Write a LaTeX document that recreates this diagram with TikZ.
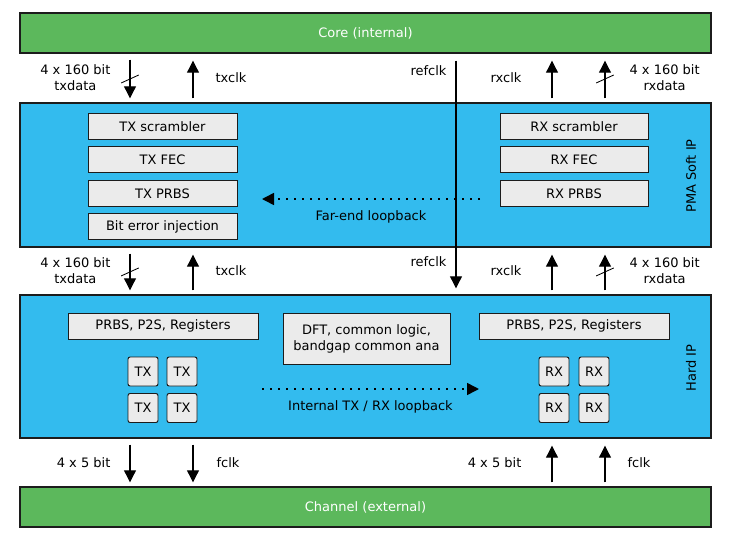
\documentclass[tikz,border=0pt]{standalone}
\usepackage{fontspec}
\setmainfont{DejaVu Sans}
\usepackage{tikz}
\usetikzlibrary{arrows.meta, positioning}
\definecolor{extgreen}{HTML}{5CB85C}
\definecolor{ipblue}{HTML}{33BBEE}
\definecolor{blkgrey}{HTML}{EBEBEB}
\definecolor{edge}{HTML}{1C1C1C}

\begin{document}
\begin{tikzpicture}[
    x=0.25mm, y=-0.25mm,
    font=\fontsize{9.25}{11.4}\selectfont,
    ext/.style={draw=edge, fill=extgreen, line width=1pt, minimum width=172.75mm,
        minimum height=10mm, text=white},
    ipbox/.style={draw=edge, fill=ipblue, line width=1pt, minimum width=172.75mm},
    blk/.style={draw=edge, fill=blkgrey, line width=0.7pt, minimum width=37.25mm,
        minimum height=6.5mm, inner sep=0pt, align=center},
    lane/.style={draw=edge, fill=blkgrey, line width=0.7pt, rounded corners=1.5pt,
        minimum width=7.5mm, minimum height=7.25mm, inner sep=0pt},
    sig/.style={-{Triangle[length=3mm, width=3mm]}, line width=0.8pt},
    down/.style={sig, shorten <=1.5mm, shorten >=1mm},
    up/.style={sig, shorten <=1mm, shorten >=1.75mm},
    busmark/.style={line width=0.6pt},
    loopflow/.style={-{Triangle[length=3mm, width=3mm]}, line width=1.1pt,
        dash pattern=on 1.1pt off 4.6pt},
    lab/.style={align=center, inner sep=0pt},
    side/.style={rotate=90, inner sep=0pt}
]
\useasboundingbox (0,0) rectangle (734,533);

% outer blocks
\node[ext] (core) at (365.5,33) {Core (internal)};
\node[ipbox, minimum height=36mm] (pma) at (365.5,175) {};
\node[ipbox, minimum height=35.75mm] (hard) at (365.5,366.5) {};
\node[ext] (chan) at (365.5,507) {Channel (external)};

\node[side] (pmalab) at (691,176) {PMA Soft IP};
\node[side] (hardlab) at (691,368) {Hard IP};

% PMA soft IP blocks
\node[blk] (txscr) at (162.5,126.5) {TX scrambler};
\node[blk, below=1.625mm of txscr] (txfec) {TX FEC};
\node[blk, below=1.625mm of txfec] (txprbs) {TX PRBS};
\node[blk, below=1.625mm of txprbs] (biterr) {Bit error injection};

\node[blk, minimum width=37mm] (rxscr) at (574,126.5) {RX scrambler};
\node[blk, minimum width=37mm, below=1.625mm of rxscr] (rxfec) {RX FEC};
\node[blk, minimum width=37mm, below=1.625mm of rxfec] (rxprbs) {RX PRBS};

% Hard IP blocks
\node[blk, minimum width=47.5mm] (txreg) at (163,326) {PRBS, P2S, Registers};
\node[blk, minimum width=41.75mm, minimum height=12.75mm] (dft) at (366.5,338.5)
    {DFT, common logic,\\bandgap common ana};
\node[blk, minimum width=47.5mm] (rxreg) at (574,326) {PRBS, P2S, Registers};

\node[lane] (tx11) at (143,371.5) {TX};
\node[lane] (tx12) at (182,371.5) {TX};
\node[lane] (tx21) at (143,408) {TX};
\node[lane] (tx22) at (182,408) {TX};
\node[lane] (rx11) at (554,371.5) {RX};
\node[lane] (rx12) at (594,371.5) {RX};
\node[lane] (rx21) at (554,408) {RX};
\node[lane] (rx22) at (594,408) {RX};

% signal columns
\coordinate (txd) at (130,0);
\coordinate (txc) at (193,0);
\coordinate (ref) at (456,0);
\coordinate (rxc) at (552,0);
\coordinate (rxd) at (605,0);

% core <-> PMA soft IP
\draw[down] (txd |- core.south) -- coordinate[pos=0.52] (bus1)
    node[lab, midway, left=4.75mm] {4 x 160 bit\\txdata} (txd |- pma.north);
\draw[up] (txc |- pma.north) -- node[lab, midway, right=5.5mm] {txclk} (txc |- core.south);
\draw[up] (rxc |- pma.north) -- node[lab, midway, left=7.5mm] {rxclk} (rxc |- core.south);
\draw[up] (rxd |- pma.north) -- coordinate[pos=0.48] (bus2)
    node[lab, midway, right=6mm] {4 x 160 bit\\rxdata} (rxd |- core.south);

% refclk runs through to the hard IP
\draw[sig, shorten <=1.75mm, shorten >=1.5mm] (ref |- core.south)
    -- node[lab, pos=0.07, left=2.25mm] {refclk}
       node[lab, pos=0.864, left=2.25mm] {refclk} (ref |- hard.north);

% PMA soft IP <-> hard IP
\draw[down] (txd |- pma.south) -- coordinate[pos=0.52] (bus3)
    node[lab, midway, left=4.75mm] {4 x 160 bit\\txdata} (txd |- hard.north);
\draw[up] (txc |- hard.north) -- node[lab, midway, right=5.5mm] {txclk} (txc |- pma.south);
\draw[up] (rxc |- hard.north) -- node[lab, midway, left=7.5mm] {rxclk} (rxc |- pma.south);
\draw[up] (rxd |- hard.north) -- coordinate[pos=0.48] (bus4)
    node[lab, midway, right=6mm] {4 x 160 bit\\rxdata} (rxd |- pma.south);

% bus slashes
\draw[busmark] ([shift={(-2.2mm,-1mm)}]bus1) -- ([shift={(2.2mm,1mm)}]bus1);
\draw[busmark] ([shift={(-2.2mm,-1mm)}]bus2) -- ([shift={(2.2mm,1mm)}]bus2);
\draw[busmark] ([shift={(-2.2mm,-1mm)}]bus3) -- ([shift={(2.2mm,1mm)}]bus3);
\draw[busmark] ([shift={(-2.2mm,-1mm)}]bus4) -- ([shift={(2.2mm,1mm)}]bus4);

% hard IP <-> channel
\draw[down] (txd |- hard.south) -- node[lab, midway, left=4.75mm] {4 x 5 bit} (txd |- chan.north);
\draw[down] (txc |- hard.south) -- node[lab, midway, right=5.75mm] {fclk} (txc |- chan.north);
\draw[up] (rxc |- chan.north) -- node[lab, midway, left=7.5mm] {4 x 5 bit} (rxc |- hard.south);
\draw[up] (rxd |- chan.north) -- node[lab, midway, right=5.5mm] {fclk} (rxd |- hard.south);

% loopbacks
\coordinate (fe1) at (480,199);
\coordinate (fe2) at (262,199);
\draw[loopflow] (fe1) -- node[lab, below=2.75mm] {Far-end loopback} (fe2);

\coordinate (il1) at (262,389);
\coordinate (il2) at (479,389);
\draw[loopflow] (il1) -- node[lab, below=2.75mm] {Internal TX / RX loopback} (il2);

\end{tikzpicture}
\end{document}
